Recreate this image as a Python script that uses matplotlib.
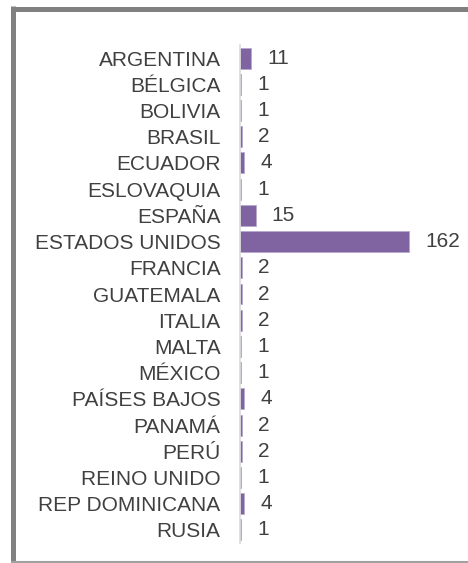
import matplotlib
matplotlib.use("Agg")
import matplotlib.pyplot as plt
from matplotlib.lines import Line2D

countries = ["ARGENTINA", "BÉLGICA", "BOLIVIA", "BRASIL", "ECUADOR", "ESLOVAQUIA",
             "ESPAÑA", "ESTADOS UNIDOS", "FRANCIA", "GUATEMALA", "ITALIA", "MALTA",
             "MÉXICO", "PAÍSES BAJOS", "PANAMÁ", "PERÚ", "REINO UNIDO",
             "REP DOMINICANA", "RUSIA"]
values = [11, 1, 1, 2, 4, 1, 15, 162, 2, 2, 2, 1, 1, 4, 2, 2, 1, 4, 1]

plt.rcParams['font.family'] = ['Liberation Sans', 'DejaVu Sans']
W, H = 468, 563
fig = plt.figure(figsize=(W/100, H/100), dpi=100)
fig.patch.set_facecolor('white')

left, right = 240, 440
top, bottom = 45, 543
ax = fig.add_axes([left/W, 1-bottom/H, (right-left)/W, (bottom-top)/H])
n = len(countries)
ypos = list(range(n))
ax.barh(ypos, values, height=0.8, color='#8064A2', edgecolor='#b9a8cf', linewidth=0.6)
ax.set_xlim(0, 162*(right-left)/169)
ax.set_ylim(n-0.5, -0.5)
ax.set_yticks(ypos)
ax.set_yticklabels(countries, fontsize=15, color='#404040')
ax.tick_params(axis='y', length=0, pad=14)
ax.set_xticks([])
for s in ['top', 'right', 'bottom']:
    ax.spines[s].set_visible(False)
ax.spines['left'].set_color('#d9d9d9')
ax.spines['left'].set_linewidth(1.2)

for y, v in zip(ypos, values):
    ax.annotate(str(v), (v, y), xytext=(11.5, 0), textcoords='offset points',
                va='center', ha='left', fontsize=15, color='#404040')

# frame
fig.add_artist(Line2D([12.5/W, 12.5/W], [1-6/H, 1-563/H], transform=fig.transFigure,
                      color='#808080', linewidth=3.6, solid_capstyle='butt'))
fig.add_artist(Line2D([10.7/W, 1], [1-8.5/H, 1-8.5/H], transform=fig.transFigure,
                      color='#808080', linewidth=3.6, solid_capstyle='butt'))
fig.add_artist(Line2D([10.7/W, 1], [1-562/H, 1-562/H], transform=fig.transFigure,
                      color='#a0a0a0', linewidth=1.5, solid_capstyle='butt'))

fig.savefig('out.png', dpi=100, facecolor='white')
